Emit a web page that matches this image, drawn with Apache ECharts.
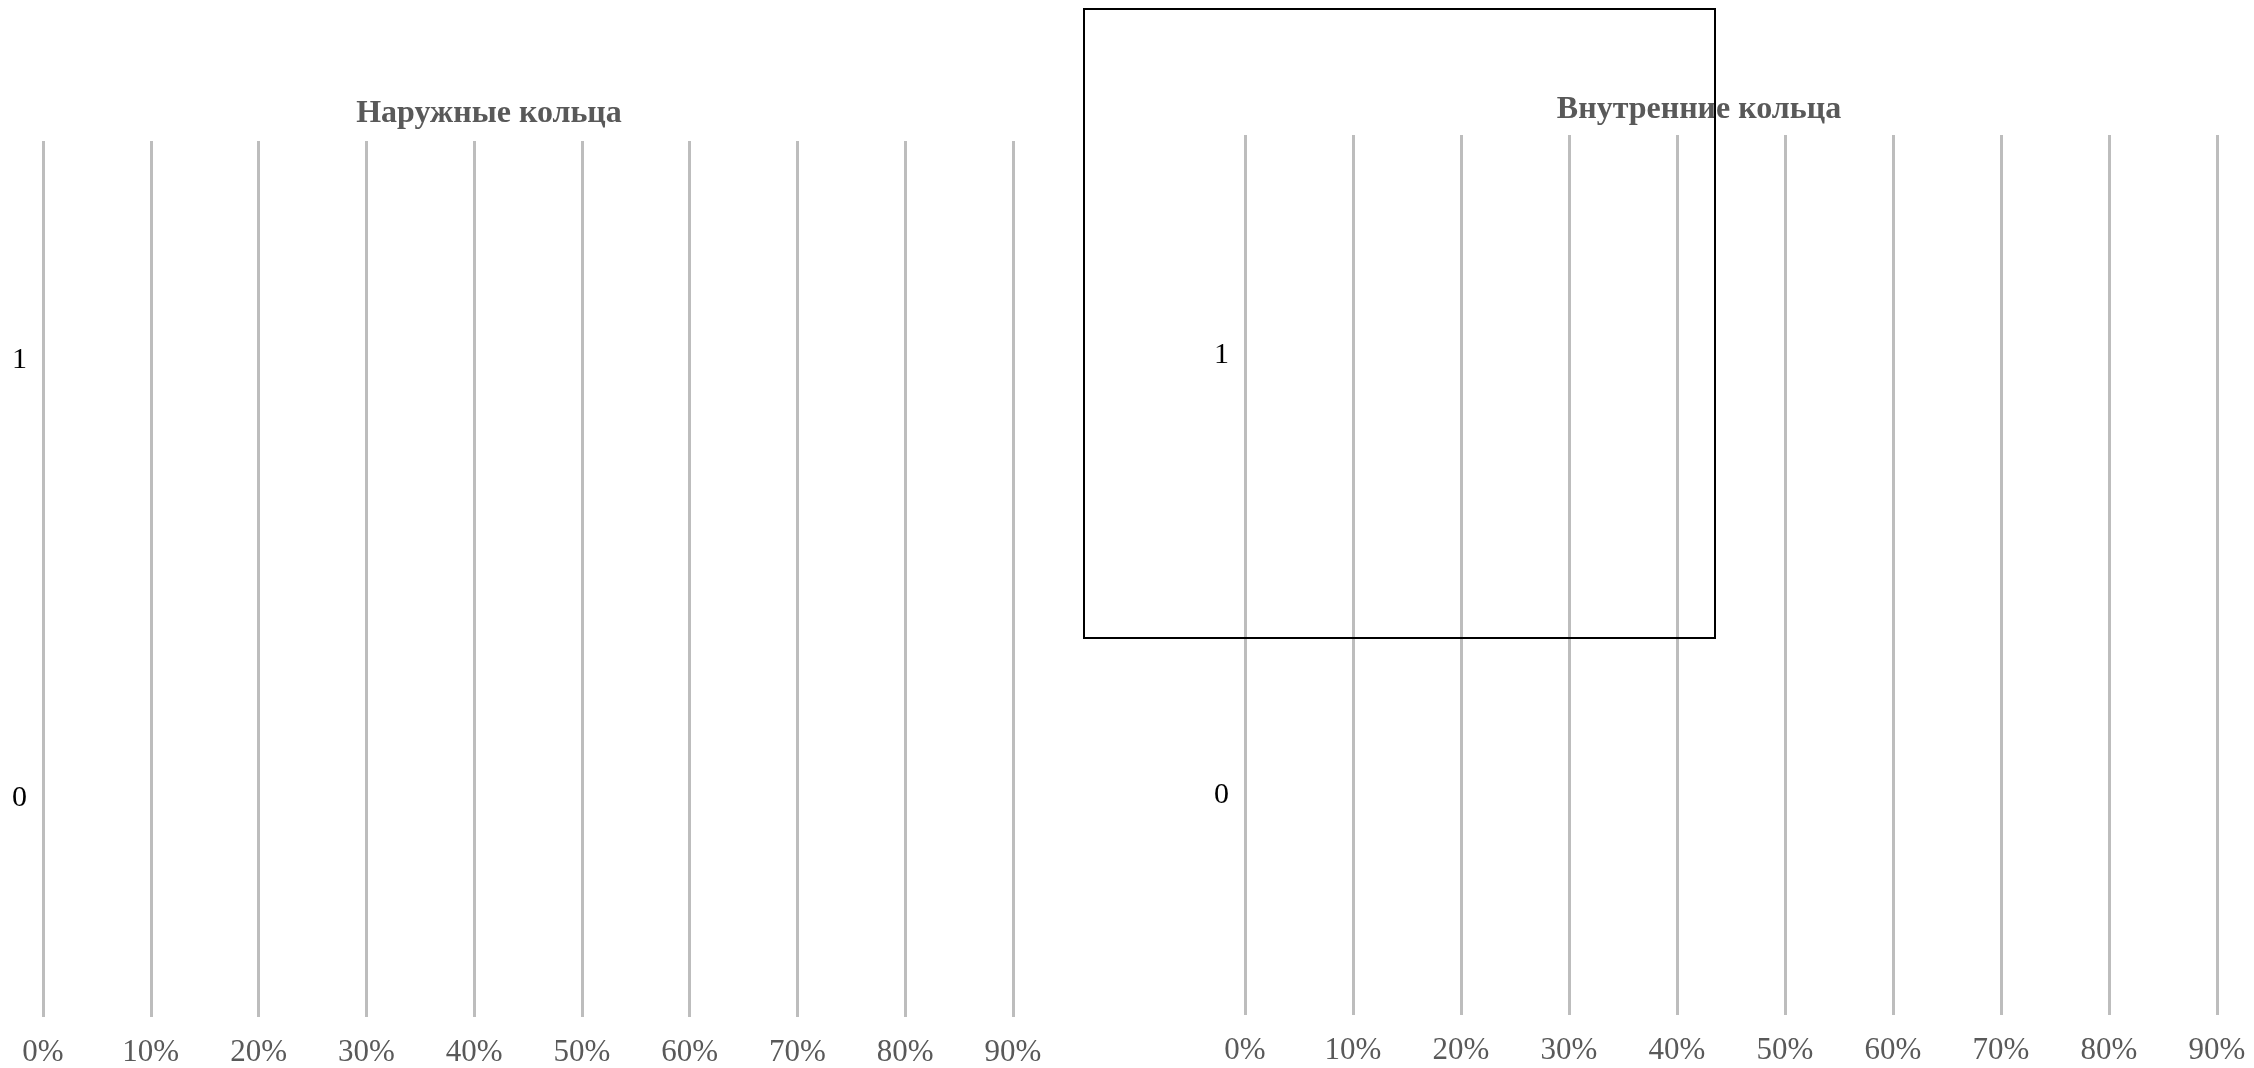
<!DOCTYPE html>
<html><head><meta charset="utf-8">
<script src="https://cdn.jsdelivr.net/npm/echarts@6/dist/echarts.min.js"></script>
<style>html,body{margin:0;padding:0;background:#fff}#c{width:2254px;height:1068px}</style>
</head><body><div id="c"></div>
<script>
const categories = ['0', '1'];
const outerValues = [0, 0];
const innerValues = [0, 0];
const xTicks = [0, 0.1, 0.2, 0.3, 0.4, 0.5, 0.6, 0.7, 0.8, 0.9];
const titles = ['Наружные кольца', 'Внутренние кольца'];

const FONT = '"Liberation Serif", "Times New Roman", serif';
const chart = echarts.init(document.getElementById('c'));
function xAxis(gi) {
  return {
    type: 'value', gridIndex: gi, min: xTicks[0], max: xTicks[xTicks.length - 1], interval: 0.1,
    axisLine: {show: false}, axisTick: {show: false},
    splitLine: {show: true, lineStyle: {color: '#bdbdbd', width: 3}},
    axisLabel: {margin: 20, color: '#595959', fontFamily: FONT, fontSize: 31,
      formatter: v => Math.round(v * 100) + '%'}
  };
}
function yAxis(gi) {
  return {
    type: 'category', gridIndex: gi, data: categories,
    axisLine: {show: false}, axisTick: {show: false}, splitLine: {show: false},
    axisLabel: {margin: 16, color: '#000', fontFamily: FONT, fontSize: 30}
  };
}
chart.setOption({
  animation: false,
  title: [
    {text: titles[0], left: 484, top: 93, textAlign: 'center',
     textStyle: {fontFamily: FONT, fontSize: 32, fontWeight: 'bold', color: '#595959'}},
    {text: titles[1], left: 1694, top: 89, textAlign: 'center',
     textStyle: {fontFamily: FONT, fontSize: 32, fontWeight: 'bold', color: '#595959'}}
  ],
  grid: [
    {left: 43, right: 1241, top: 141, bottom: 47},
    {left: 1245, right: 37, top: 135, bottom: 53}
  ],
  xAxis: [xAxis(0), xAxis(1)],
  yAxis: [yAxis(0), yAxis(1)],
  series: [
    {type: 'bar', xAxisIndex: 0, yAxisIndex: 0, data: outerValues, itemStyle: {color: '#4472c4'}},
    {type: 'bar', xAxisIndex: 1, yAxisIndex: 1, data: innerValues, itemStyle: {color: '#4472c4'}}
  ],
  graphic: [
    {type: 'rect', z: 100, shape: {x: 1084, y: 9, width: 631, height: 629},
     style: {fill: 'none', stroke: '#000', lineWidth: 2}}
  ]
});
</script></body></html>
